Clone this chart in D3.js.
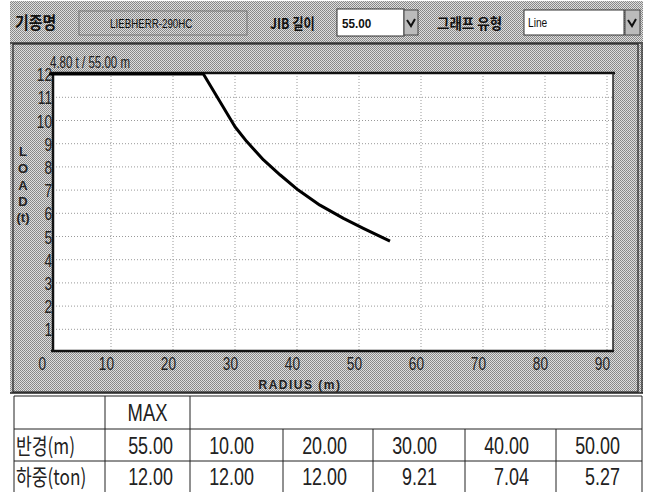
<!DOCTYPE html>
<html><head><meta charset="utf-8">
<script src="https://cdn.jsdelivr.net/npm/d3@7"></script>
<style>body{margin:0;background:#fff}svg{display:block}</style>
</head><body><svg id="c" width="646" height="492"></svg>
<script>
// ---- data ----
const radius = [0, 24.9, 27.9, 30.0, 31.9, 34.6, 37.3, 40.2, 43.7, 47.5, 50.7, 55.0];
const load   = [12, 12, 10.67, 9.73, 9.09, 8.30, 7.65, 7.0, 6.35, 5.78, 5.35, 4.80];
const xTicks = [0, 10, 20, 30, 40, 50, 60, 70, 80, 90];
const yTicks = [1, 2, 3, 4, 5, 6, 7, 8, 9, 10, 11, 12];
const tableHeader = ["", "MAX"];
const rowLabels = ["반경(m)", "하중(ton)"];
const tableRadius = ["55.00", "10.00", "20.00", "30.00", "40.00", "50.00"];
const tableLoad   = ["12.00", "12.00", "12.00", "9.21", "7.04", "5.27"];
const craneModel = "LIEBHERR-290HC";
const jibLength = "55.00";
const graphType = "Line";
const maxLabel = "4.80 t / 55.00 m";

const svg = d3.select("#c");
const defs = svg.append("defs");
const pat = defs.append("pattern").attr("id","dith").attr("width",2).attr("height",2).attr("patternUnits","userSpaceOnUse");
pat.append("rect").attr("width",2).attr("height",2).attr("fill","#dedede");
pat.append("rect").attr("width",1).attr("height",1).attr("fill","#858585");
pat.append("rect").attr("x",1).attr("y",1).attr("width",1).attr("height",1).attr("fill","#8e8e8e");

const KR = "'Noto Sans CJK KR', sans-serif";
const LS = "'Liberation Sans', Arial, sans-serif";

function ctext(g, x, y, s, opt) {
  const sx = opt.sx || 1;
  const t = g.append("text")
    .attr("transform", `translate(${x},${y}) scale(${sx},1)`)
    .attr("text-anchor", opt.anchor || "start")
    .attr("font-family", opt.font || LS)
    .attr("font-size", opt.size || 14)
    .attr("font-weight", opt.weight || "normal")
    .attr("fill", opt.fill || "#111")
    .text(s);
  if (opt.ls) t.attr("letter-spacing", opt.ls);
  return t;
}

// gray panel
svg.append("rect").attr("x",10).attr("y",1).attr("width",633).attr("height",392).attr("fill","url(#dith)");
svg.append("line").attr("x1",10).attr("x2",643).attr("y1",43).attr("y2",43).attr("stroke","#333").attr("stroke-width",1.5);
svg.append("rect").attr("x",13).attr("y",44).attr("width",625).attr("height",348).attr("fill","none").attr("stroke","#222").attr("stroke-width",1.2);
svg.append("line").attr("x1",642).attr("x2",642).attr("y1",44).attr("y2",393).attr("stroke","#222").attr("stroke-width",1.2);
svg.append("line").attr("x1",10).attr("x2",643).attr("y1",393).attr("y2",393).attr("stroke","#222").attr("stroke-width",1.5);

// header controls
const hdr = svg.append("g");
ctext(hdr, 15, 29, "기종명", {font: KR, size: 17, weight: "bold", sx: 0.88});
hdr.append("rect").attr("x",79).attr("y",11).attr("width",168).attr("height",24).attr("fill","none").attr("stroke","#777");
ctext(hdr, 110, 28, craneModel, {size: 13, sx: 0.75});
ctext(hdr, 270, 29, "JIB 길이", {font: KR, size: 15, weight: "bold", sx: 0.82});
hdr.append("rect").attr("x",337).attr("y",9).attr("width",67).attr("height",27).attr("fill","#fff").attr("stroke","#333");
ctext(hdr, 342, 28, jibLength, {size: 13, weight: "bold", sx: 0.9});
hdr.append("rect").attr("x",404).attr("y",10).attr("width",14).attr("height",25).attr("fill","#bbb").attr("stroke","#444");
hdr.append("path").attr("d","M407,20 L411,26 L415,19").attr("fill","none").attr("stroke","#111").attr("stroke-width",2);
ctext(hdr, 437, 29, "그래프 유형", {font: KR, size: 15, weight: "bold", sx: 0.9});
hdr.append("rect").attr("x",524).attr("y",10).attr("width",100).attr("height",25).attr("fill","#fff").attr("stroke","#333");
ctext(hdr, 528, 27, graphType, {size: 12, sx: 0.85});
hdr.append("rect").attr("x",625).attr("y",10).attr("width",15).attr("height",25).attr("fill","#bbb").attr("stroke","#444");
hdr.append("path").attr("d","M628,20 L632,26 L636,19").attr("fill","none").attr("stroke","#111").attr("stroke-width",2);

// chart
const x = d3.scaleLinear().domain([0, 90]).range([49, 607]);
const y = d3.scaleLinear().domain([0, 12]).range([352.5, 74.1]);
const plotL = 53, plotR = 613, plotT = 73, plotB = 351;
svg.append("rect").attr("x",plotL).attr("y",plotT).attr("width",plotR-plotL).attr("height",plotB-plotT).attr("fill","#fff");

const grid = svg.append("g").attr("stroke","#999").attr("stroke-width",1).attr("stroke-dasharray","1,2");
grid.selectAll("line.v").data(xTicks.filter(d => d > 0)).join("line")
  .attr("x1", d => x(d)).attr("x2", d => x(d)).attr("y1", plotT).attr("y2", plotB);
grid.selectAll("line.h").data(yTicks.filter(d => d < 12)).join("line")
  .attr("y1", d => y(d)).attr("y2", d => y(d)).attr("x1", plotL).attr("x2", plotR);

svg.append("line").attr("x1",plotL-2).attr("x2",plotR+2).attr("y1",plotT).attr("y2",plotT).attr("stroke","#111").attr("stroke-width",2.5);
svg.append("line").attr("x1",plotL).attr("x2",plotL).attr("y1",plotT).attr("y2",plotB).attr("stroke","#111").attr("stroke-width",2.5);
svg.append("line").attr("x1",plotL-2).attr("x2",plotR+1).attr("y1",plotB).attr("y2",plotB).attr("stroke","#111").attr("stroke-width",2.5);
svg.append("line").attr("x1",plotR).attr("x2",plotR).attr("y1",plotT).attr("y2",plotB).attr("stroke","#222").attr("stroke-width",1.5);

// axes tick labels
const yAx = svg.append("g");
yTicks.forEach(v => ctext(yAx, 52, y(v) + 7, String(v), {size: 19, sx: 0.72, anchor: "end", fill: "#222"}));
const xAx = svg.append("g");
xTicks.forEach(v => ctext(xAx, v === 0 ? 46 : x(v) + 3, 370, String(v), {size: 19, sx: 0.72, anchor: "end", fill: "#222"}));

ctext(svg, 300, 389, "RADIUS (m)", {size: 12, weight: "bold", anchor: "middle", fill: "#222", ls: 1.5});
const loadLetters = ["L", "O", "A", "D", "(t)"];
const loadY = [156, 173, 190, 206, 222];
loadLetters.forEach((s, i) => ctext(svg, 23, loadY[i], s, {size: 13, weight: "bold", anchor: "middle", fill: "#222"}));
ctext(svg, 50, 68, maxLabel, {size: 16, sx: 0.72, fill: "#222"});

// curve
const line = d3.line().x(d => x(d[0])).y(d => y(d[1]));
svg.append("path").datum(radius.map((r, i) => [r, load[i]]))
  .attr("d", line).attr("fill","none").attr("stroke","#000").attr("stroke-width",3).attr("stroke-linejoin","round");

// table
const colX = [14, 105, 190, 283, 373, 465, 556, 642];
const rowY = [396, 429, 461, 492];
const tb = svg.append("g").attr("stroke","#222").attr("stroke-width",1);
tb.append("line").attr("x1",colX[0]).attr("x2",colX[7]).attr("y1",rowY[0]).attr("y2",rowY[0]);
tb.append("line").attr("x1",colX[0]).attr("x2",colX[7]).attr("y1",rowY[1]).attr("y2",rowY[1]);
tb.append("line").attr("x1",colX[0]).attr("x2",colX[7]).attr("y1",rowY[2]).attr("y2",rowY[2]);
[0,1,2,7].forEach(i => tb.append("line").attr("x1",colX[i]).attr("x2",colX[i]).attr("y1",rowY[0]).attr("y2",rowY[3]));
[3,4,5,6].forEach(i => tb.append("line").attr("x1",colX[i]).attr("x2",colX[i]).attr("y1",rowY[1]).attr("y2",rowY[3]));

const tt = svg.append("g");
ctext(tt, (colX[1]+colX[2])/2, 421, tableHeader[1], {size: 23, sx: 0.8, anchor: "middle", fill: "#222"});
rowLabels.forEach((s, i) => ctext(tt, colX[0]+2, 454 + i*31, s, {font: KR, size: 22, sx: 0.78, fill: "#222"}));
tableRadius.forEach((s, i) => ctext(tt, colX[i+1] + (i === 0 ? 68 : 64), 454, s, {size: 23, sx: 0.78, anchor: "end", fill: "#222"}));
tableLoad.forEach((s, i) => ctext(tt, colX[i+1] + (i === 0 ? 68 : 64), 485, s, {size: 23, sx: 0.78, anchor: "end", fill: "#222"}));
</script></body></html>
